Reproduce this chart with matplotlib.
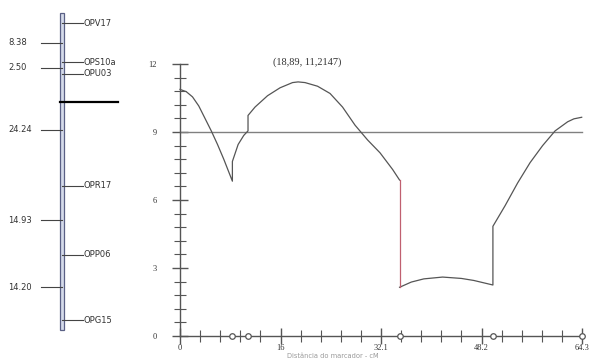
import numpy as np
import matplotlib.pyplot as plt

# genetic map (left)
markers = ['OPV17', 'OPS10a', 'OPU03', 'OPR17', 'OPP06', 'OPG15']
intervals = [8.38, 2.50, 24.24, 14.93, 14.20]
interval_labels = ['8.38', '2.50', '24.24', '14.93', '14.20']
qtl_pos = 17.0

# LOD profile (right)
seg_a_x = [0, 1, 2, 3, 4, 5, 6, 7, 8.38]
seg_a_y = [10.88, 10.78, 10.55, 10.15, 9.6, 9.05, 8.45, 7.8, 6.83]
seg_b_x = [8.38, 9.3, 10.2, 10.88]
seg_b_y = [7.7, 8.45, 8.85, 9.05]
seg_c_x = [10.88, 12, 14, 16, 18, 18.89, 20, 22, 24, 26, 28, 30, 32, 34, 35.12]
seg_c_y = [9.73, 10.1, 10.6, 10.95, 11.18, 11.21, 11.18, 11.02, 10.7, 10.1, 9.3, 8.65, 8.08, 7.35, 6.88]
seg_d_x = [35.12, 37, 39, 42, 45, 47, 50.05]
seg_d_y = [2.15, 2.38, 2.52, 2.6, 2.54, 2.45, 2.25]
seg_e_x = [50.05, 52, 54, 56, 58, 60, 62, 63, 64.25]
seg_e_y = [4.84, 5.75, 6.75, 7.65, 8.4, 9.05, 9.45, 9.58, 9.65]
threshold = 9
peak_label = '(18,89, 11,2147)'
xticks = [0, 16.075, 32.15, 48.225, 64.3]
xtick_labels = ['0', '16', '32.1', '48.2', '64.3']
yticks = [0, 3, 6, 9, 12]

pos = np.concatenate([[0], np.cumsum(intervals)])
mids = (pos[:-1] + pos[1:]) / 2

fig = plt.figure(figsize=(5.94, 3.6), dpi=100)

# left panel drawn in pixel x / cM y
ax1 = fig.add_axes([0, 0, 1, 1])
ax1.set_xlim(0, 594)
ax1.set_ylim((360 - 23.3) / 4.62, -23.3 / 4.62)
ax1.axis('off')
ax1.add_patch(plt.Rectangle((60, -2.2), 4, pos[-1] + 4.4, facecolor='#d5dbea',
                            edgecolor='#5a6085', lw=0.9))
for p, m in zip(pos, markers):
    ax1.plot([62, 83], [p, p], color='#444444', lw=0.8)
    ax1.text(84, p, m, fontsize=6, color='#333333', va='center', ha='left')
for p, lab in zip(mids, interval_labels):
    ax1.plot([41, 62], [p, p], color='#444444', lw=0.8)
    ax1.text(8, p, lab, fontsize=6, color='#333333', va='center', ha='left')
ax1.plot([60, 118], [qtl_pos, qtl_pos], color='black', lw=1.6)

# LOD panel
ax = fig.add_axes([180 / 594, 24 / 360, 402 / 594, 272 / 360])
ax.patch.set_alpha(0)
ax.set_xlim(0, 64.3)
ax.set_ylim(0, 12)
for s in ['top', 'right']:
    ax.spines[s].set_visible(False)
for s in ['left', 'bottom']:
    ax.spines[s].set_color('#555555')
    ax.spines[s].set_linewidth(1.0)

ax.set_xticks(xticks)
ax.set_xticklabels(xtick_labels, family='Liberation Serif')
ax.set_xticks(np.linspace(0, 64.3, 21), minor=True)
ax.set_yticks(yticks)
ax.set_yticklabels([str(v) for v in yticks], family='Liberation Serif')
ax.set_yticks(np.arange(0, 12.01, 0.6), minor=True)
ax.tick_params(which='major', direction='inout', length=12, width=1, color='#555555',
               labelsize=6, labelcolor='#333333', pad=0)
ax.tick_params(which='minor', direction='inout', length=8, width=0.8, color='#555555')
ax.tick_params(axis='y', pad=11)

ax.plot([0, 64.3], [threshold, threshold], color='#808080', lw=1.0, clip_on=False)

curve_x = seg_a_x + seg_b_x + seg_c_x
curve_y = seg_a_y + seg_b_y + seg_c_y
ax.plot(curve_x, curve_y, color='#555555', lw=0.9, clip_on=False)
ax.plot(seg_d_x + seg_e_x, seg_d_y + seg_e_y, color='#555555', lw=0.9, clip_on=False)
ax.plot([seg_c_x[-1], seg_d_x[0]], [seg_c_y[-1], seg_d_y[0]], color='#c06070', lw=0.9)

ax.plot(pos[1:], np.zeros(len(pos) - 1), 'o', ms=4, mfc='white', mec='#555555',
        mew=0.9, clip_on=False, zorder=5)

ax.text(20.3, 12.1, peak_label, fontsize=7.5, family='Liberation Serif',
        color='#333333', ha='center', va='center')
ax.text(24.5, -0.9, 'Distância do marcador - cM', fontsize=4.8, color='#999999',
        ha='center', va='center')

fig.savefig('out.png', dpi=100)
